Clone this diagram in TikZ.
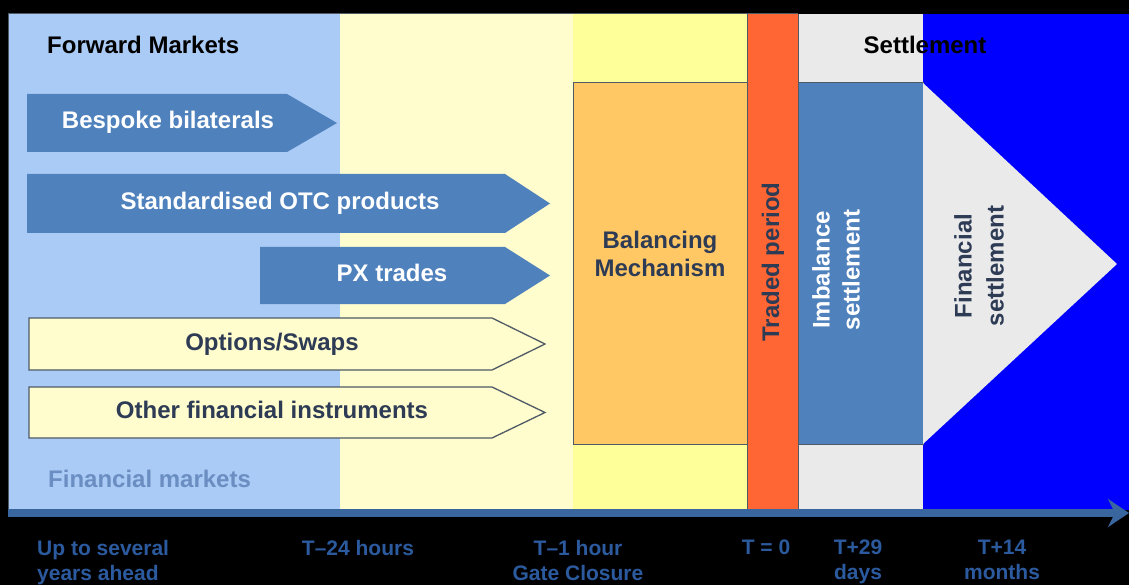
\documentclass[tikz,border=0pt]{standalone}
\usepackage{fontspec}
\setmainfont{Liberation Sans}
\usetikzlibrary{arrows.meta}
\definecolor{fwdblue}{HTML}{AACBF6}
\definecolor{dayahead}{HTML}{FFFCCD}
\definecolor{hourahead}{HTML}{FFFF99}
\definecolor{bmorange}{HTML}{FFC864}
\definecolor{tradedred}{HTML}{FF6633}
\definecolor{settlegray}{HTML}{EAEAEA}
\definecolor{finblue}{HTML}{0000FF}
\definecolor{prodblue}{HTML}{4F81BD}
\definecolor{inkgray}{HTML}{2E3B55}
\definecolor{edgegray}{HTML}{4E5A66}
\definecolor{axisblue}{HTML}{3A66A0}
\definecolor{tickblue}{HTML}{2C5A9E}
\definecolor{finmktblue}{HTML}{6B8EC2}

\tikzset{
  biglabel/.style={font=\bfseries\fontsize{24}{28}\selectfont, inner sep=0pt},
  armlabel/.style={biglabel, text height=17pt, text depth=5pt},
  ticklbl/.style={font=\bfseries\fontsize{21}{25}\selectfont, text=tickblue,
    align=center, inner sep=0pt, anchor=north},
  fwdarrow/.style={fill=prodblue},
  finarrow/.style={fill=dayahead, draw=edgegray, line width=1.3pt},
  colline/.style={draw=edgegray, line width=1pt},
  axis/.style={draw=axisblue, line width=8pt,
    -{Stealth[length=21pt, width=28pt, inset=7pt]}},
}

\begin{document}
\begin{tikzpicture}[x=1pt, y=-1pt]
\useasboundingbox (0,0) rectangle (1129,585);

% background and time columns
\fill[black] (0,0) rectangle (1129,585);
\fill[fwdblue] (8,14) rectangle (340,510);
\fill[dayahead] (340,14) rectangle (573,510);
\fill[hourahead] (573,14) rectangle (747,510);
\fill[tradedred] (747,14) rectangle (798,510);
\fill[settlegray] (798,14) rectangle (923,510);
\fill[finblue] (923,14) rectangle (1129,510);
\draw[colline] (8,510) -- (8,14) -- (798,14);
\draw[colline] (747,14) -- (747,510);
\draw[colline] (798,14) -- (798,510);

% headings
\node[biglabel, anchor=west] (fwd) at (47,45) {Forward Markets};
\node[biglabel] (settle) at (925,45) {Settlement};
\node[biglabel, anchor=west, text=finmktblue] (finmkt) at (48,479)
    {Financial markets};

% forward products
\foreach \name/\xl/\xb/\xt/\yt/\yb/\xtxt/\txt in {
    bespoke/27/287/337/94/152/168/Bespoke bilaterals,
    otc/27/505/550/174/233/280/Standardised OTC products,
    px/260/505/550/247/304/392/PX trades}
{
    \fill[fwdarrow] (\xl,\yt) -- (\xb,\yt) -- (\xt,{(\yt+\yb)/2}) --
        (\xb,\yb) -- (\xl,\yb) -- cycle;
    \node[armlabel, text=white] (\name) at (\xtxt,{(\yt+\yb)/2}) {\txt};
}

% financial products
\foreach \name/\yt/\yb/\txt in {
    opts/318/370/{Options/Swaps},
    other/387/438/Other financial instruments}
{
    \filldraw[finarrow] (29,\yt) -- (492,\yt) -- (545,{(\yt+\yb)/2}) --
        (492,\yb) -- (29,\yb) -- cycle;
    \node[armlabel, text=inkgray] (\name) at (272,{(\yt+\yb)/2}) {\txt};
}

% balancing and settlement
\filldraw[fill=bmorange, draw=edgegray, line width=1pt] (573,83) rectangle (747,444);
\node[biglabel, text=inkgray, align=center] (bm) at (660,254)
    {Balancing\\Mechanism};
\node[biglabel, text=inkgray, rotate=90] (traded) at (773,262) {Traded period};
\filldraw[fill=prodblue, draw=edgegray, line width=1pt] (798,83) rectangle (923,444);
\node[biglabel, text=white, rotate=90, align=center,
    font=\bfseries\fontsize{24}{30}\selectfont] (imbal) at (836,270)
    {Imbalance\\settlement};
\fill[settlegray] (923,83) -- (1117,264) -- (923,444) -- cycle;
\node[biglabel, text=inkgray, rotate=90, align=center,
    font=\bfseries\fontsize{24}{32}\selectfont] (finset) at (979,266)
    {Financial\\settlement};

% time axis
\coordinate (axstart) at (8,513);
\coordinate (axend) at (1129,513);
\draw[axis] (axstart) -- (axend);

\node[ticklbl, anchor=north west, align=left] (ahead) at (37,540)
    {Up to several\\years ahead};
\node[ticklbl] (dayah) at (358,540) {T–24 hours};
\node[ticklbl] (gate) at (578,540) {T–1 hour\\Gate Closure};
\node[ticklbl] (tzero) at (766,540) {T = 0};
\node[ticklbl] (tdays) at (858,540) {T+29\\days};
\node[ticklbl] (tmonths) at (1002,540) {T+14\\months};

\end{tikzpicture}
\end{document}
